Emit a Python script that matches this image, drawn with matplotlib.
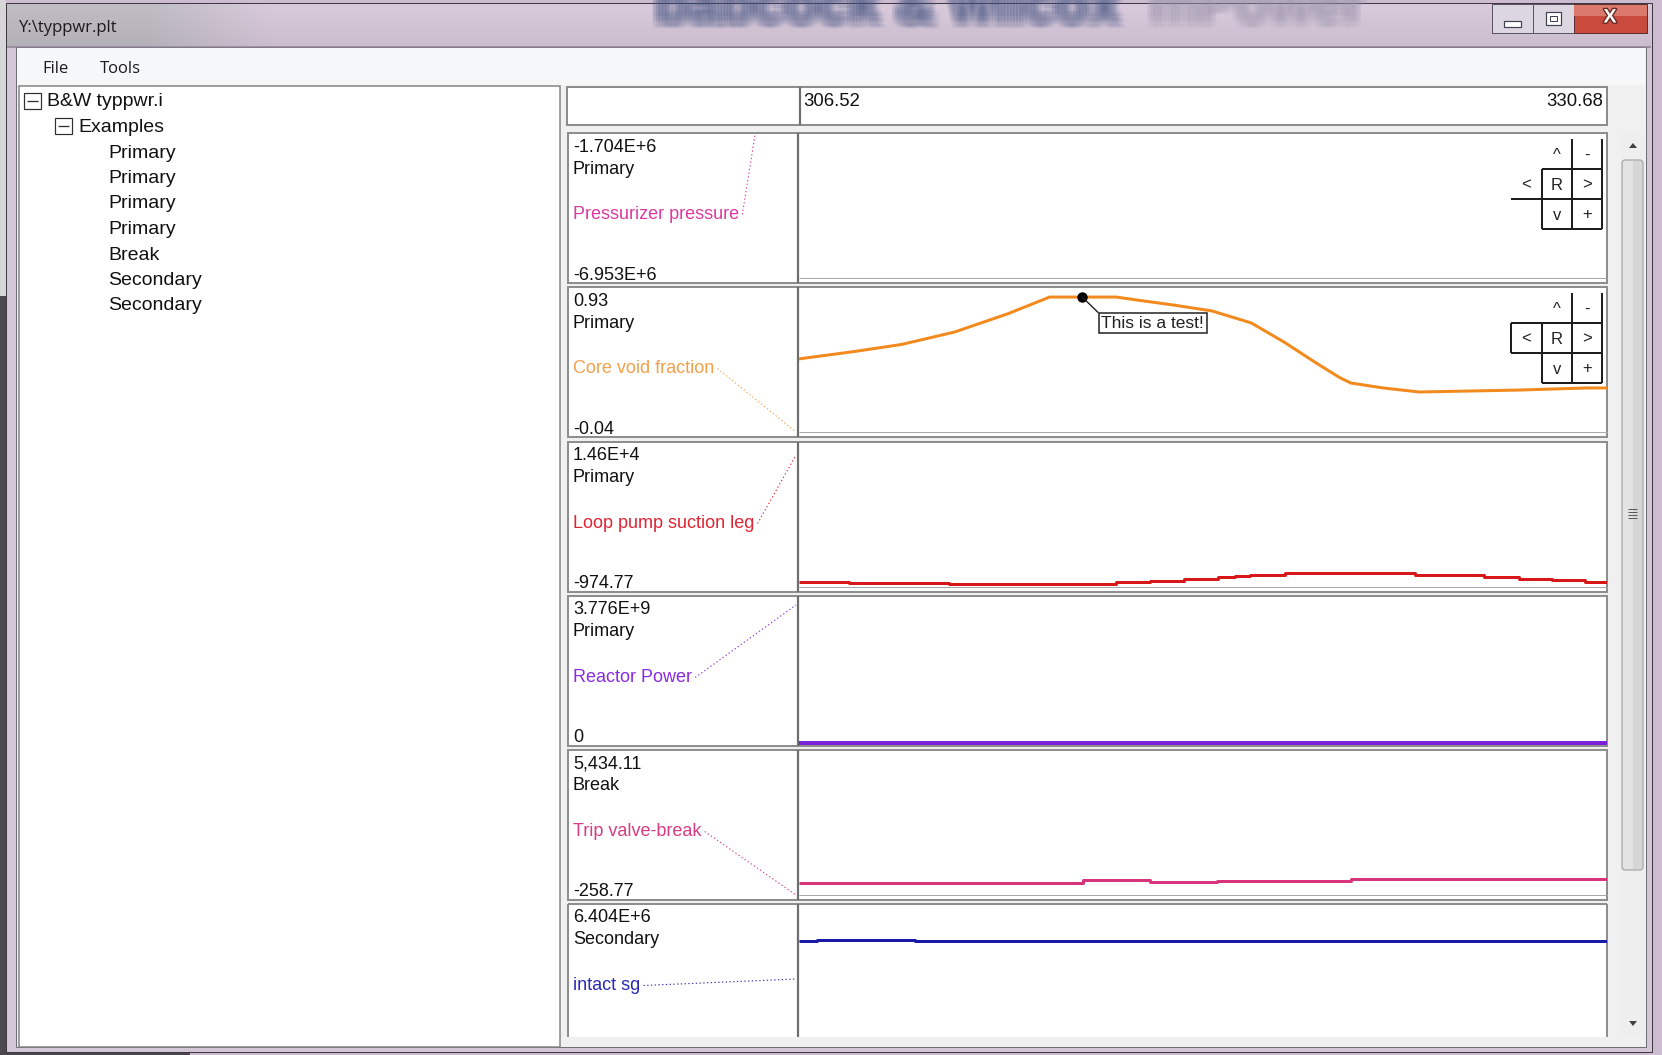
import numpy as np
import matplotlib
matplotlib.use("Agg")
import matplotlib.pyplot as plt
from matplotlib.patches import Rectangle, FancyBboxPatch, Polygon
import matplotlib.patheffects as pe

plt.rcParams['font.family'] = ['Liberation Sans', 'DejaVu Sans']

# ---------------- data ----------------
window_title = 'Y:\\typpwr.plt'
backdrop_words = ['babcock & wilcox', 'mPower']
menu_items = ['File', 'Tools']
tree_root = 'B&W typpwr.i'
tree_folder = 'Examples'
tree_children = ['Primary', 'Primary', 'Primary', 'Primary', 'Break', 'Secondary', 'Secondary']

time_start = 306.52
time_end = 330.68

series_names = ['Pressurizer pressure', 'Core void fraction', 'Loop pump suction leg',
                'Reactor Power', 'Trip valve-break', 'intact sg']
series_groups = ['Primary', 'Primary', 'Primary', 'Primary', 'Break', 'Secondary']
top_labels = ['-1.704E+6', '0.93', '1.46E+4', '3.776E+9', '5,434.11', '6.404E+6']
bottom_labels = ['-6.953E+6', '-0.04', '-974.77', '0', '-258.77', '']
y_top = [-1.704e6, 0.93, 1.46e4, 3.776e9, 5434.11, 6.404e6]
y_bottom = [-6.953e6, -0.04, -974.77, 0.0, -258.77, 4.5e6]

void_time = [306.52, 308.10, 309.60, 311.18, 312.76, 313.40, 314.02, 316.02, 316.64,
             317.72, 318.88, 320.05, 321.03, 321.99, 322.71, 323.03, 323.99, 325.07,
             328.05, 330.08, 330.68]
void_frac = [0.462, 0.509, 0.559, 0.642, 0.763, 0.820, 0.876, 0.876, 0.856,
             0.823, 0.783, 0.703, 0.575, 0.435, 0.335, 0.301, 0.268, 0.241,
             0.254, 0.268, 0.268]

pump_time = [306.52, 308.04, 311.03, 316.02, 317.03, 318.05, 319.06, 319.57, 320.02,
             321.06, 324.95, 327.01, 328.05, 329.04, 330.02, 330.68]
pump_flow = [-191, -363, -491, -223, -73, 99, 271, 443, 572,
             744, 486, 314, 142, -8, -201, -201]

power_time = [306.52, 330.68]
power_value = [0.0, 0.0]

trip_time = [306.52, 314.02, 315.03, 317.03, 319.03, 322.02, 323.03, 330.68]
trip_value = [303, 279, 390, 322, 385, 362, 448, 448]

sg_time = [306.52, 307.06, 310.01, 330.68]
sg_value = [5.944e6, 5.961e6, 5.940e6, 5.940e6]

note_time = 315.0
note_text = 'This is a test!'

# ---------------- styling ----------------
W, H = 1662, 1055
PX = 0.72  # one pixel in points at 100 dpi

label_colors = ['#DC3AA0', '#F4A048', '#E02434', '#8A2BE2', '#D83C82', '#2A2AB4']
line_colors = [None, '#F28A1E', '#D81818', '#7B22D8', '#D8347C', '#1A1AA8']
line_widths = [0, 3, 3, 4, 3, 3]
series_data = [None,
               (void_time, void_frac, 'default'),
               (pump_time, pump_flow, 'steps-post'),
               (power_time, power_value, 'steps-post'),
               (trip_time, trip_value, 'steps-post'),
               (sg_time, sg_value, 'steps-post')]

panel_tops = [133, 287, 442, 596, 750, 904]
panel_h = 150
pane_bottom = 1037
x_left, x_div, x_right = 568, 797.5, 1607
leader_ends = [(755, 2), (796, 145), (796, 13), (796, 9), (796, 145), (796, 75)]

fig = plt.figure(figsize=(W / 100, H / 100), dpi=100, facecolor='#CDBBD1')
base = fig.add_axes([0, 0, 1, 1])
base.axis('off')


def rect(x0, y0, x1, y1, fc, ec='none', lw=0, z=1):
    p = Rectangle((x0, y0), x1 - x0, y1 - y0, facecolor=fc, edgecolor=ec,
                  linewidth=lw * PX, zorder=z)
    base.add_patch(p)
    return p


def seg(xs, ys, color, lw=1, z=3, **kw):
    base.plot(xs, ys, color=color, lw=lw * PX, zorder=z, solid_capstyle='butt', **kw)


# desktop around the window
rect(0, 0, 6, 296, '#D6D6D8', z=0.5)
rect(0, 296, 6, H, '#4C4A50', z=0.5)
rect(0, 1052, 190, H, '#4A484C', z=0.5)

# window frame
rect(6, 3, 1652, 1052, '#D3C6D7', ec='#3C3A40', lw=1, z=0.8)

# title bar glass gradient
gx = np.linspace(0, 1644, 600)
mix = np.clip((gx - 140) / 120, 0, 1)
grey = np.array([0.75, 0.74, 0.77])
lav = np.array([0.85, 0.79, 0.86])
row = grey[None, :] * (1 - mix[:, None]) + lav[None, :] * mix[:, None]
shade = 1 - 0.06 * np.linspace(0, 1, 40)
base.imshow(row[None, :, :] * shade[:, None, None], extent=(7, 1651, 46, 4),
            aspect='auto', zorder=1, interpolation='bilinear')

# soft backdrop lettering seen through the glass (many faint shifted copies)
clip_bar = Rectangle((7, 4), 1644, 42, transform=base.transData, facecolor='none')
offs = [(dx, dy) for dx in (-6, -3, 0, 3, 6) for dy in (-6, -3, 0, 3, 6)]
for word, x0, col in [(backdrop_words[0], 655, '#4B5A88'), (backdrop_words[1], 1149, '#A29CB4')]:
    for dx, dy in offs:
        t = base.text(x0 + dx, 22 + dy, word, fontsize=40, fontweight='bold', color=col,
                      alpha=0.06, ha='left', va='baseline', zorder=1.5)
        t.set_clip_path(clip_bar)

seg([7, 1651], [46.5, 46.5], '#8A8090', lw=1.5, z=2)
base.text(19, 28, window_title, fontsize=12, family=['Open Sans', 'DejaVu Sans'],
          color='#1A1A1A', ha='left', va='center', zorder=5)

# caption buttons
rect(1492, 4, 1533, 33, '#DCD6E0', ec='#5A5560', lw=1, z=2)
rect(1533, 4, 1574, 33, '#DCD6E0', ec='#5A5560', lw=1, z=2)
rect(1574, 4, 1647, 33, '#C94B3E', ec='#5A3030', lw=1, z=2)
rect(1574, 5, 1647, 16, '#DB7A6C', z=2.1)
rect(1504, 21, 1521, 27, 'white', ec='#404050', lw=1.2, z=3)
rect(1546, 12, 1561, 25, 'white', ec='#404050', lw=1.2, z=3)
rect(1550, 16, 1557, 21, 'white', ec='#404050', lw=1, z=3)
base.text(1610, 18, 'X', fontsize=14, fontweight='bold', color='white', ha='center', va='center',
          zorder=4, path_effects=[pe.withStroke(linewidth=2, foreground='#6A2A22')])

# client area and menu bar
rect(16, 47, 1646, 1047, '#F0F0F0', ec='#6E6E74', lw=1, z=1)
rect(17, 48, 1645, 85, '#F6F7F8', z=1.2)
for label, x in zip(menu_items, [42, 100]):
    base.text(x, 69, label, fontsize=12, family=['Open Sans', 'DejaVu Sans'],
              color='#1A1A1A', ha='left', va='center', zorder=5)

# tree view
rect(19, 86, 560, 1047, 'white', ec='#828282', lw=1.5, z=1.5)
for (bx, by), label, tx in [((24, 93), tree_root, 47), ((55, 118), tree_folder, 78)]:
    rect(bx, by, bx + 17, by + 16, 'white', ec='#303030', lw=1.2, z=3)
    seg([bx + 3, bx + 14], [by + 8, by + 8], '#303030', lw=1.3, z=4)
    base.text(tx, by + 9, label, fontsize=14, color='#111111', ha='left', va='center', zorder=5)
for i, label in enumerate(tree_children):
    base.text(108, 153 + 25.5 * i, label, fontsize=14, color='#111111',
              ha='left', va='center', zorder=5)

# time header
rect(567, 87, 1607, 125, 'white', ec='#8C8C8C', lw=2, z=2)
seg([800, 800], [87, 125], '#6E6E6E', lw=2.2)
base.text(803, 102, f'{time_start:.2f}', fontsize=13.3, color='#111111', ha='left', va='center', zorder=5)
base.text(1603, 102, f'{time_end:.2f}', fontsize=13.3, color='#111111', ha='right', va='center', zorder=5)

# scrollbar
rect(1621, 133, 1645, 1037, '#EEEEEE', z=1.5)
base.add_patch(FancyBboxPatch((1622, 160), 21, 710, boxstyle='round,pad=0,rounding_size=3',
                              facecolor='#E3E3E3', edgecolor='#979797', linewidth=1 * PX, zorder=2))
rect(1633, 161, 1642, 869, '#D6D6D6', z=2.1)
for gy in (509, 512, 515, 518):
    seg([1628, 1637], [gy, gy], '#5A5A5A', lw=1, z=3)
base.add_patch(Polygon([(1629, 148), (1637, 148), (1633, 143)], closed=True, facecolor='#404040', zorder=3))
base.add_patch(Polygon([(1629, 1021), (1637, 1021), (1633, 1026)], closed=True, facecolor='#404040', zorder=3))

# plot panels
name_texts = []
for i, T in enumerate(panel_tops):
    last = i == len(panel_tops) - 1
    bottom = min(T + panel_h, pane_bottom)
    if last:
        rect(x_left, T, x_right, bottom, 'white', z=2)
        seg([x_left, x_right], [T, T], '#8E8E8E', lw=2)
        seg([x_left, x_left], [T, bottom], '#8E8E8E', lw=2)
        seg([x_right, x_right], [T, bottom], '#8E8E8E', lw=2)
    else:
        rect(x_left, T, x_right, bottom, 'white', ec='#8E8E8E', lw=2, z=2)
        seg([x_div + 1, x_right], [T + 145, T + 145], '#A8A8A8', lw=1)
    seg([x_div, x_div], [T, bottom], '#6E6E6E', lw=2.2)

    base.text(573, T + 14, top_labels[i], fontsize=13, color='#111111', ha='left', va='center', zorder=5)
    base.text(573, T + 36, series_groups[i], fontsize=13, color='#111111', ha='left', va='center', zorder=5)
    name_texts.append(base.text(573, T + 81.5, series_names[i], fontsize=13, color=label_colors[i],
                                ha='left', va='center', zorder=5))
    if bottom_labels[i]:
        base.text(573, T + 142, bottom_labels[i], fontsize=13, color='#111111',
                  ha='left', va='center', zorder=5)

# navigation pads on the first two panels
for i in (0, 1):
    T = panel_tops[i]
    cx = [1511, 1542, 1572, 1602]
    ry = [T + 5.5, T + 35.5, T + 65.5, T + 95.5]
    k = '#1E1E1E'
    seg([cx[2], cx[2]], [ry[0], ry[3]], k, lw=2, z=4)
    seg([cx[3], cx[3]], [ry[0], ry[3]], k, lw=2, z=4)
    seg([cx[1], cx[1]], [ry[1], ry[3]], k, lw=2, z=4)
    seg([cx[1], cx[3]], [ry[1], ry[1]], k, lw=2, z=4)
    seg([cx[0], cx[3]], [ry[2], ry[2]], k, lw=2, z=4)
    seg([cx[1], cx[3]], [ry[3], ry[3]], k, lw=2, z=4)
    if i == 1:
        seg([cx[0], cx[0]], [ry[1], ry[2]], k, lw=2, z=4)
        seg([cx[0], cx[1]], [ry[1], ry[1]], k, lw=2, z=4)
    mids = [(cx[j] + cx[j + 1]) / 2 for j in range(3)]
    for glyph, c, r in [('^', 1, 0), ('-', 2, 0), ('<', 0, 1), ('R', 1, 1), ('>', 2, 1), ('v', 1, 2), ('+', 2, 2)]:
        base.text(mids[c], ry[r] + 21, glyph, fontsize=12, color='#222222',
                  ha='center', va='baseline', zorder=5)

# series traces
axes = []
for i, T in enumerate(panel_tops):
    ax = fig.add_axes([(x_div + 1) / W, 1 - (T + 147) / H, (x_right - x_div - 1) / W, 145 / H])
    ax.set_xlim(time_start, time_end)
    ax.set_ylim(y_bottom[i], y_top[i])
    ax.axis('off')
    ax.patch.set_visible(False)
    if series_data[i] is not None:
        t, v, ds = series_data[i]
        ax.plot(t, v, color=line_colors[i], lw=line_widths[i] * PX, drawstyle=ds,
                solid_capstyle='butt', solid_joinstyle='round', clip_on=(i != 3))
    axes.append(ax)

# note on the void fraction trace
note_val = np.interp(note_time, void_time, void_frac)
axes[1].plot([note_time], [note_val], 'o', color='black', ms=6.5, zorder=5)
axes[1].annotate(note_text, xy=(note_time, note_val), xytext=(19, -26), textcoords='offset pixels',
                 ha='left', va='center', fontsize=12.5, color='#222222', zorder=6,
                 bbox=dict(boxstyle='square,pad=0.15', facecolor='white', edgecolor='#222222', linewidth=1.1),
                 arrowprops=dict(arrowstyle='-', color='#222222', lw=1, shrinkA=0, shrinkB=0, relpos=(0, 1)))

# dotted leaders from series names into the plot area
renderer = fig.canvas.get_renderer()
for i, T in enumerate(panel_tops):
    bb = name_texts[i].get_window_extent(renderer)
    x0 = bb.x1 + 4
    y0 = T + 81.5
    ex, ey = leader_ends[i]
    seg([x0, ex], [y0, T + ey], label_colors[i], lw=1.1, z=4, linestyle=(0, (1.2, 2.2)))

base.set_xlim(0, W)
base.set_ylim(H, 0)
fig.savefig('out.png', dpi=100, facecolor=fig.get_facecolor())
